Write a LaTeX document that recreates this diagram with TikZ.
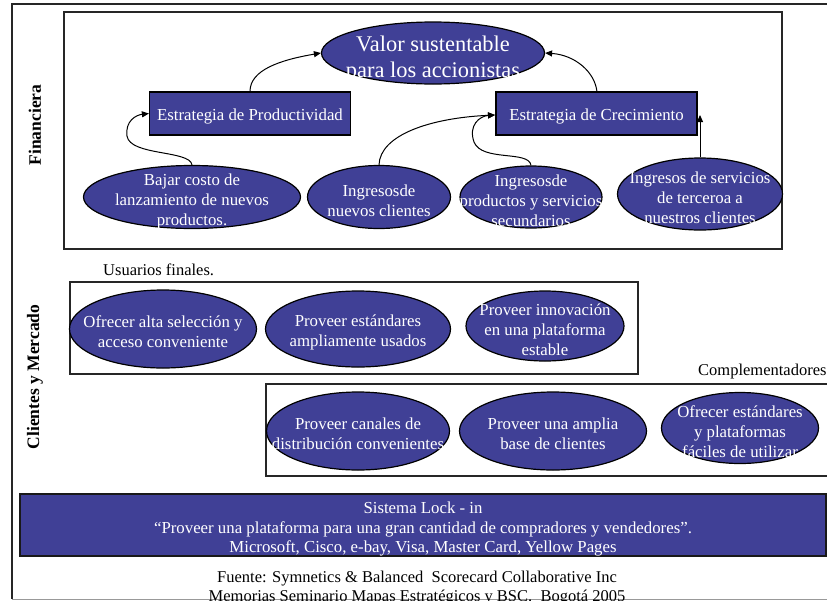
\documentclass[tikz,border=0pt]{standalone}
\usepackage{fontspec}
\setmainfont{Liberation Serif}
\usetikzlibrary{shapes.geometric,arrows.meta}
\definecolor{bsblue}{RGB}{64,64,150}
\begin{document}
\begin{tikzpicture}[x=1pt,y=-1pt,
  oval/.style={ellipse,draw=black,line width=1.2pt,fill=bsblue,inner sep=0pt},
  ovaltext/.style={text=white,align=center,inner sep=0pt,yshift=-4pt,
    font=\fontsize{16.8}{20}\selectfont},
  stratbox/.style={rectangle,draw=black,line width=1.2pt,fill=bsblue,
    text=white,inner sep=0pt,text height=13pt,text depth=0pt,
    font=\fontsize{16.8}{20}\selectfont},
  panel/.style={draw=black!85,line width=1.3pt},
  side/.style={rotate=90,font=\fontsize{17.5}{20}\selectfont\bfseries},
  plain/.style={inner sep=0pt,font=\fontsize{16.5}{20}\selectfont},
  link/.style={line width=1pt,-{Triangle[length=7pt,width=6pt]}},
]
\useasboundingbox (0,0) rectangle (827,600);

% outer frame
\draw[panel,line width=1.6pt] (900,4) -- (12,4) -- (12,599);
\draw[black!40,line width=1pt] (12,599) -- (900,599);

% section frames
\draw[panel] (64,12) rectangle (782,249);
\draw[panel] (70,282) rectangle (638,374);
\draw[panel] (266,384) rectangle (900,476);

% side labels
\node[side] (fin) at (35,125) {Financiera};
\node[side] (cli) at (35,377) {Clientes y Mercado};

% financial perspective
\node[oval,minimum width=223pt,minimum height=62pt] (valor) at (433,53) {};
\node[ovaltext,yshift=-2pt,font=\fontsize{22.4}{26}\selectfont] (valor-t) at (valor)
  {Valor sustentable\\para los accionistas};
\node[stratbox,minimum width=201pt,minimum height=43pt] (prod) at (250,113.5)
  {Estrategia de Productividad};
\node[stratbox,minimum width=201pt,minimum height=43pt] (crec) at (596.5,113.5)
  {Estrategia de Crecimiento};

\node[oval,minimum width=217pt,minimum height=63pt] (bajar) at (192,197) {};
\node[ovaltext] (bajar-t) at (bajar)
  {Bajar costo de\\lanzamiento de nuevos\\productos.};
\node[oval,minimum width=143pt,minimum height=63pt] (nuevos) at (379,197) {};
\node[ovaltext] (nuevos-t) at (nuevos)
  {Ingresosde\\nuevos clientes};
\node[oval,minimum width=142pt,minimum height=62pt] (secund) at (531,197) {};
\node[ovaltext] (secund-t) at (secund)
  {Ingresosde\\productos y servicios\\secundarios};
\node[oval,minimum width=165pt,minimum height=72pt] (terce) at (700,194) {};
\node[ovaltext] (terce-t) at (terce)
  {Ingresos de servicios\\de terceroa a\\nuestros clientes};

\coordinate (crectop) at (597,92);
\coordinate (crecin) at (495,115);
\coordinate (crecright) at (700,115);

\draw[link] (bajar.north) .. controls (190,150) and (130,156) .. (127,136)
  .. controls (125,121) and (136,115) .. (prod.west);
\draw[link] (prod.north) .. controls (250,70) and (280,60) .. (valor.west);
\draw[link] (nuevos.north) .. controls (380,135) and (430,118) .. (crecin);
\draw[link] (secund.north) .. controls (529,150) and (482,162) .. (474,142)
  .. controls (468,125) and (480,116) .. (crecin);
\draw[link] (crectop) .. controls (595,72) and (575,55) .. (valor.east);
\draw[link] (terce.north) -- (crecright);

% customers and market
\node[plain,anchor=west] (usu) at (103,270) {Usuarios finales.};
\node[plain,anchor=west] (comp) at (698,372) {Complementadores};

\node[oval,minimum width=187pt,minimum height=78pt] (ofrecer) at (163,329) {};
\node[ovaltext,yshift=1pt] (ofrecer-t) at (ofrecer)
  {Ofrecer alta selección y\\acceso conveniente};
\node[oval,minimum width=185pt,minimum height=76pt] (estand) at (358,329) {};
\node[ovaltext,yshift=1pt] (estand-t) at (estand)
  {Proveer estándares\\ampliamente usados};
\node[oval,minimum width=158pt,minimum height=70pt] (innov) at (545,326) {};
\node[ovaltext] (innov-t) at (innov)
  {Proveer innovación\\en una plataforma\\estable};
\node[oval,minimum width=183pt,minimum height=78pt] (canal) at (358,431) {};
\node[ovaltext,yshift=1pt] (canal-t) at (canal)
  {Proveer canales de\\distribución convenientes};
\node[oval,minimum width=187pt,minimum height=78pt] (base) at (553,431) {};
\node[ovaltext,yshift=1pt] (base-t) at (base)
  {Proveer una amplia\\base de clientes};
\node[oval,minimum width=157pt,minimum height=71pt] (facil) at (740,428) {};
\node[ovaltext] (facil-t) at (facil)
  {Ofrecer estándares\\y plataformas\\fáciles de utilizar};

% lock-in system
\node[rectangle,draw=black!90,line width=1.6pt,fill=bsblue,
  minimum width=806pt,minimum height=62pt,inner sep=0pt] (lock) at (423,525) {};
\node[ovaltext,font=\fontsize{16.8}{19.5}\selectfont] (lock-t) at (lock)
  {Sistema Lock - in\\“Proveer una plataforma para una gran cantidad de compradores y vendedores”.\\Microsoft, Cisco, e-bay, Visa, Master Card, Yellow Pages};

% source
\node[plain] (src1) at (417,579)
  {Fuente: Symnetics \& Balanced\ \ Scorecard Collaborative Inc};
\node[plain] (src2) at (417,598)
  {Memorias Seminario Mapas Estratégicos y BSC.\ \ Bogotá 2005};
\end{tikzpicture}
\end{document}
